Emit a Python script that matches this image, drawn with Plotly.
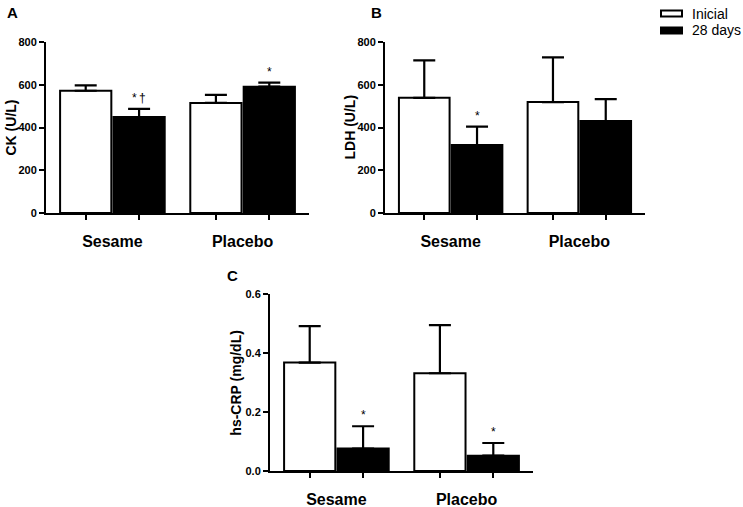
import plotly.graph_objects as go

# data
groups = ["Sesame", "Placebo"]

ck_inicial = [572, 515]
ck_inicial_sd = [25, 38]
ck_28 = [449, 591]
ck_28_sd = [38, 19]

ldh_inicial = [539, 519]
ldh_inicial_sd = [175, 209]
ldh_28 = [318, 430]
ldh_28_sd = [86, 103]

crp_inicial = [0.368, 0.332]
crp_inicial_sd = [0.124, 0.163]
crp_28 = [0.076, 0.052]
crp_28_sd = [0.076, 0.043]

ck_marks = ["*\u2009\u2020", "*"]
ldh_marks = ["*", ""]
crp_marks = ["*", "*"]

W, H = 743, 507
FONT = "Arial, Liberation Sans, sans-serif"
BARGAP = 0.18
xpos = list(range(len(groups)))
half = (1 - BARGAP) / 4
bar_centers = [x + d for x in xpos for d in (-half, half)]


def px(x0, x1):
    return [x0 / W, x1 / W]


def py(top, bottom):
    return [1 - bottom / H, 1 - top / H]


fig = go.Figure()

# suffix, values, title, y range, dtick, format, title x (px)
panels = [
    ("", ck_inicial, ck_inicial_sd, ck_28, ck_28_sd, ck_marks, "CK (U/L)", [0, 800], 200, "d", 11),
    ("2", ldh_inicial, ldh_inicial_sd, ldh_28, ldh_28_sd, ldh_marks, "LDH (U/L)", [0, 800], 200, "d", 350),
    ("3", crp_inicial, crp_inicial_sd, crp_28, crp_28_sd, crp_marks, "hs-CRP (mg/dL)", [0, 0.6], 0.2, ".1f", 236),
]
domains = [
    (px(46, 309), py(42, 213)),
    (px(385, 645), py(42, 213)),
    (px(270, 533), py(294.3, 471)),
]

for (sfx, v0, s0, v1, s1, marks, ytitle, yr, dt, fmt, tx), (dx, dy) in zip(panels, domains):
    for vals, sd, fill, name in [(v0, s0, "white", "Inicial"), (v1, s1, "black", "28 days")]:
        fig.add_trace(go.Bar(
            x=xpos, y=vals, name=name, showlegend=False,
            marker=dict(color=fill, line=dict(color="black", width=2)),
            error_y=dict(type="data", symmetric=False, array=sd, arrayminus=[0] * len(sd),
                         color="black", thickness=2.2, width=11),
            xaxis="x" + sfx, yaxis="y" + sfx,
        ))
    for i, m in enumerate(marks):
        if m:
            fig.add_annotation(x=xpos[i] + half, y=v1[i] + s1[i], text=m, showarrow=False,
                               xref="x" + sfx, yref="y" + sfx, yanchor="bottom", yshift=2,
                               font=dict(family=FONT, size=12, color="black"))
    fig.add_annotation(x=tx / W, y=(dy[0] + dy[1]) / 2, xref="paper", yref="paper",
                       text="<b>%s</b>" % ytitle, textangle=-90, showarrow=False,
                       xanchor="center", yanchor="middle",
                       font=dict(family=FONT, size=14, color="black"))
    fig.update_layout({
        "xaxis" + sfx: dict(
            domain=dx, anchor="y" + sfx, range=[-0.51, 1.51], automargin=False,
            tickvals=xpos, ticktext=groups, ticks="", ticklabelstandoff=13,
            tickfont=dict(family=FONT, size=16, color="black", weight="bold"),
            showline=True, linecolor="black", linewidth=2, showgrid=False, zeroline=False,
            minor=dict(tickvals=bar_centers, ticks="outside", ticklen=5, tickwidth=2,
                       tickcolor="black", showgrid=False),
        ),
        "yaxis" + sfx: dict(
            domain=dy, anchor="x" + sfx, range=yr, dtick=dt, tickformat=fmt, automargin=False,
            ticks="outside", ticklen=5, tickwidth=2, tickcolor="black",
            tickfont=dict(family=FONT, size=11, color="black", weight="bold"),
            showline=True, linecolor="black", linewidth=2, showgrid=False, zeroline=False,
        ),
    })

# panel letters
for letter, x, y in [("A", 12, 12), ("B", 377, 12), ("C", 232, 275)]:
    fig.add_annotation(x=x / W, y=1 - y / H, xref="paper", yref="paper", text="<b>%s</b>" % letter,
                       showarrow=False, xanchor="center", yanchor="middle",
                       font=dict(family=FONT, size=15, color="black"))

# legend
for label, fill, top in [("Inicial", "white", 10.5), ("28 days", "black", 27.5)]:
    fig.add_shape(type="rect", xref="paper", yref="paper", x0=661 / W, x1=682 / W,
                  y0=1 - (top + 6) / H, y1=1 - top / H, fillcolor=fill,
                  line=dict(color="black", width=2))
    fig.add_annotation(x=690 / W, y=1 - (top + 3) / H, xref="paper", yref="paper", text=label,
                       xanchor="left", yanchor="middle", showarrow=False,
                       font=dict(family=FONT, size=14, color="black"))

fig.update_layout(
    width=W, height=H, margin=dict(l=0, r=0, t=0, b=0, autoexpand=False),
    barmode="group", bargap=BARGAP, bargroupgap=0.04,
    plot_bgcolor="white", paper_bgcolor="white",
)

fig.write_html("out.html", config={"displayModeBar": False},
               post_script="document.body.style.margin='0px';")
